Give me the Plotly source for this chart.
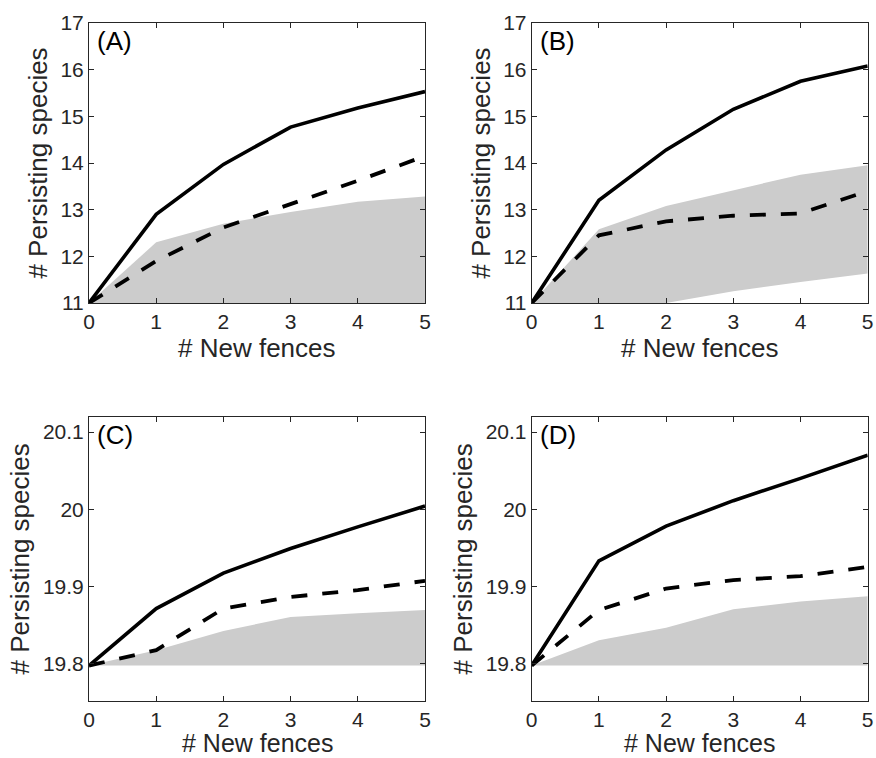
import plotly.graph_objects as go

x_fences = [0, 1, 2, 3, 4, 5]

# Panel A
a_solid = [11.0, 12.9, 13.97, 14.77, 15.18, 15.53]
a_dashed = [11.0, 11.9, 12.62, 13.12, 13.62, 14.15]
a_band_low = [11.0, 11.0, 11.0, 11.0, 11.0, 11.0]
a_band_high = [11.0, 12.3, 12.7, 12.95, 13.17, 13.28]

# Panel B
b_solid = [11.0, 13.2, 14.28, 15.15, 15.75, 16.08]
b_dashed = [11.0, 12.45, 12.75, 12.87, 12.92, 13.4]
b_band_low = [11.0, 11.0, 11.0, 11.25, 11.45, 11.63]
b_band_high = [11.0, 12.58, 13.08, 13.42, 13.75, 13.95]

# Panel C
c_solid = [19.797, 19.871, 19.917, 19.949, 19.977, 20.004]
c_dashed = [19.797, 19.817, 19.871, 19.886, 19.895, 19.907]
c_band_low = [19.797, 19.797, 19.797, 19.797, 19.797, 19.797]
c_band_high = [19.797, 19.817, 19.842, 19.86, 19.865, 19.869]

# Panel D
d_solid = [19.797, 19.933, 19.978, 20.011, 20.04, 20.07]
d_dashed = [19.797, 19.869, 19.897, 19.908, 19.913, 19.925]
d_band_low = [19.797, 19.797, 19.797, 19.797, 19.797, 19.797]
d_band_high = [19.797, 19.83, 19.846, 19.87, 19.88, 19.887]

panel_labels = ["(A)", "(B)", "(C)", "(D)"]
x_title = "# New fences"
y_title = "# Persisting species"
x_ticks = [0, 1, 2, 3, 4, 5]
y_ticks_top = [11, 12, 13, 14, 15, 16, 17]
y_ticks_bottom = [19.8, 19.9, 20.0, 20.1]
y_tick_text_bottom = ["19.8", "19.9", "20", "20.1"]

FONT = "Liberation Sans, Arial, Helvetica, sans-serif"
TXT = "#262626"

fig = go.Figure()

panels = [
    (a_solid, a_dashed, a_band_low, a_band_high, "x", "y"),
    (b_solid, b_dashed, b_band_low, b_band_high, "x2", "y2"),
    (c_solid, c_dashed, c_band_low, c_band_high, "x3", "y3"),
    (d_solid, d_dashed, d_band_low, d_band_high, "x4", "y4"),
]

for solid, dashed, lo, hi, xa, ya in panels:
    fig.add_trace(go.Scatter(x=x_fences, y=lo, mode="lines", line=dict(width=0, color="#cccccc"),
                             xaxis=xa, yaxis=ya, showlegend=False, hoverinfo="skip"))
    fig.add_trace(go.Scatter(x=x_fences, y=hi, mode="lines", line=dict(width=0, color="#cccccc"),
                             fill="tonexty", fillcolor="#cccccc",
                             xaxis=xa, yaxis=ya, showlegend=False, hoverinfo="skip"))
    fig.add_trace(go.Scatter(x=x_fences, y=solid, mode="lines", line=dict(width=3.6, color="black"),
                             xaxis=xa, yaxis=ya, showlegend=False))
    fig.add_trace(go.Scatter(x=x_fences, y=dashed, mode="lines",
                             line=dict(width=3.8, color="black", dash="16px,15px"),
                             xaxis=xa, yaxis=ya, showlegend=False))

W, H = 876, 758
xdom_left = [89 / W, 425 / W]
xdom_right = [531.7 / W, 867.7 / W]
ydom_top = [1 - 303 / H, 1 - 23 / H]
ydom_bottom = [1 - 701 / H, 1 - 416.7 / H]


def x_axis(domain, anchor):
    return dict(domain=domain, anchor=anchor, range=[0, 5], tickvals=x_ticks, ticks="inside",
                ticklen=5, tickcolor=TXT, showline=True, linecolor=TXT, linewidth=1,
                mirror="allticks", showgrid=False, zeroline=False, automargin=False,
                tickfont=dict(size=21, color=TXT, family=FONT))


common_y = dict(ticks="inside", ticklen=5, tickcolor=TXT,
                showline=True, linecolor=TXT, linewidth=1, mirror="allticks", showgrid=False,
                zeroline=False, automargin=False, tickfont=dict(size=21, color=TXT, family=FONT),
                title=dict(text=y_title, font=dict(size=26, color=TXT, family=FONT), standoff=5))

fig.update_layout(
    width=W, height=H, margin=dict(l=0, r=0, t=0, b=0), autosize=False,
    paper_bgcolor="white", plot_bgcolor="white",
    xaxis=x_axis(xdom_left, "y"),
    yaxis=dict(domain=ydom_top, anchor="x", range=[11, 17], tickvals=y_ticks_top, **common_y),
    xaxis2=x_axis(xdom_right, "y2"),
    yaxis2=dict(domain=ydom_top, anchor="x2", range=[11, 17], tickvals=y_ticks_top, **common_y),
    xaxis3=x_axis(xdom_left, "y3"),
    yaxis3=dict(domain=ydom_bottom, anchor="x3", range=[19.751, 20.12], tickvals=y_ticks_bottom,
                ticktext=y_tick_text_bottom, **common_y),
    xaxis4=x_axis(xdom_right, "y4"),
    yaxis4=dict(domain=ydom_bottom, anchor="x4", range=[19.751, 20.12], tickvals=y_ticks_bottom,
                ticktext=y_tick_text_bottom, **common_y),
)

for i, lab in enumerate(panel_labels):
    suffix = "" if i == 0 else str(i + 1)
    fig.add_annotation(text=lab, xref=f"x{suffix} domain", yref=f"y{suffix} domain",
                       x=0.018, y=0.995, xanchor="left", yanchor="top", showarrow=False,
                       font=dict(size=26, color="black", family=FONT))
    # x-axis title as annotation (axis titles get clamped inside the figure)
    fig.add_annotation(text=x_title, xref=f"x{suffix} domain", yref=f"y{suffix} domain",
                       x=0.5, y=0, xanchor="center", yanchor="middle",
                       yshift=-45 if i < 2 else -42, showarrow=False,
                       font=dict(size=26 if i < 2 else 25, color=TXT, family=FONT))

fig.write_html("out.html", config={"displayModeBar": False},
               post_script="document.body.style.margin='0';document.body.style.overflow='hidden';")
